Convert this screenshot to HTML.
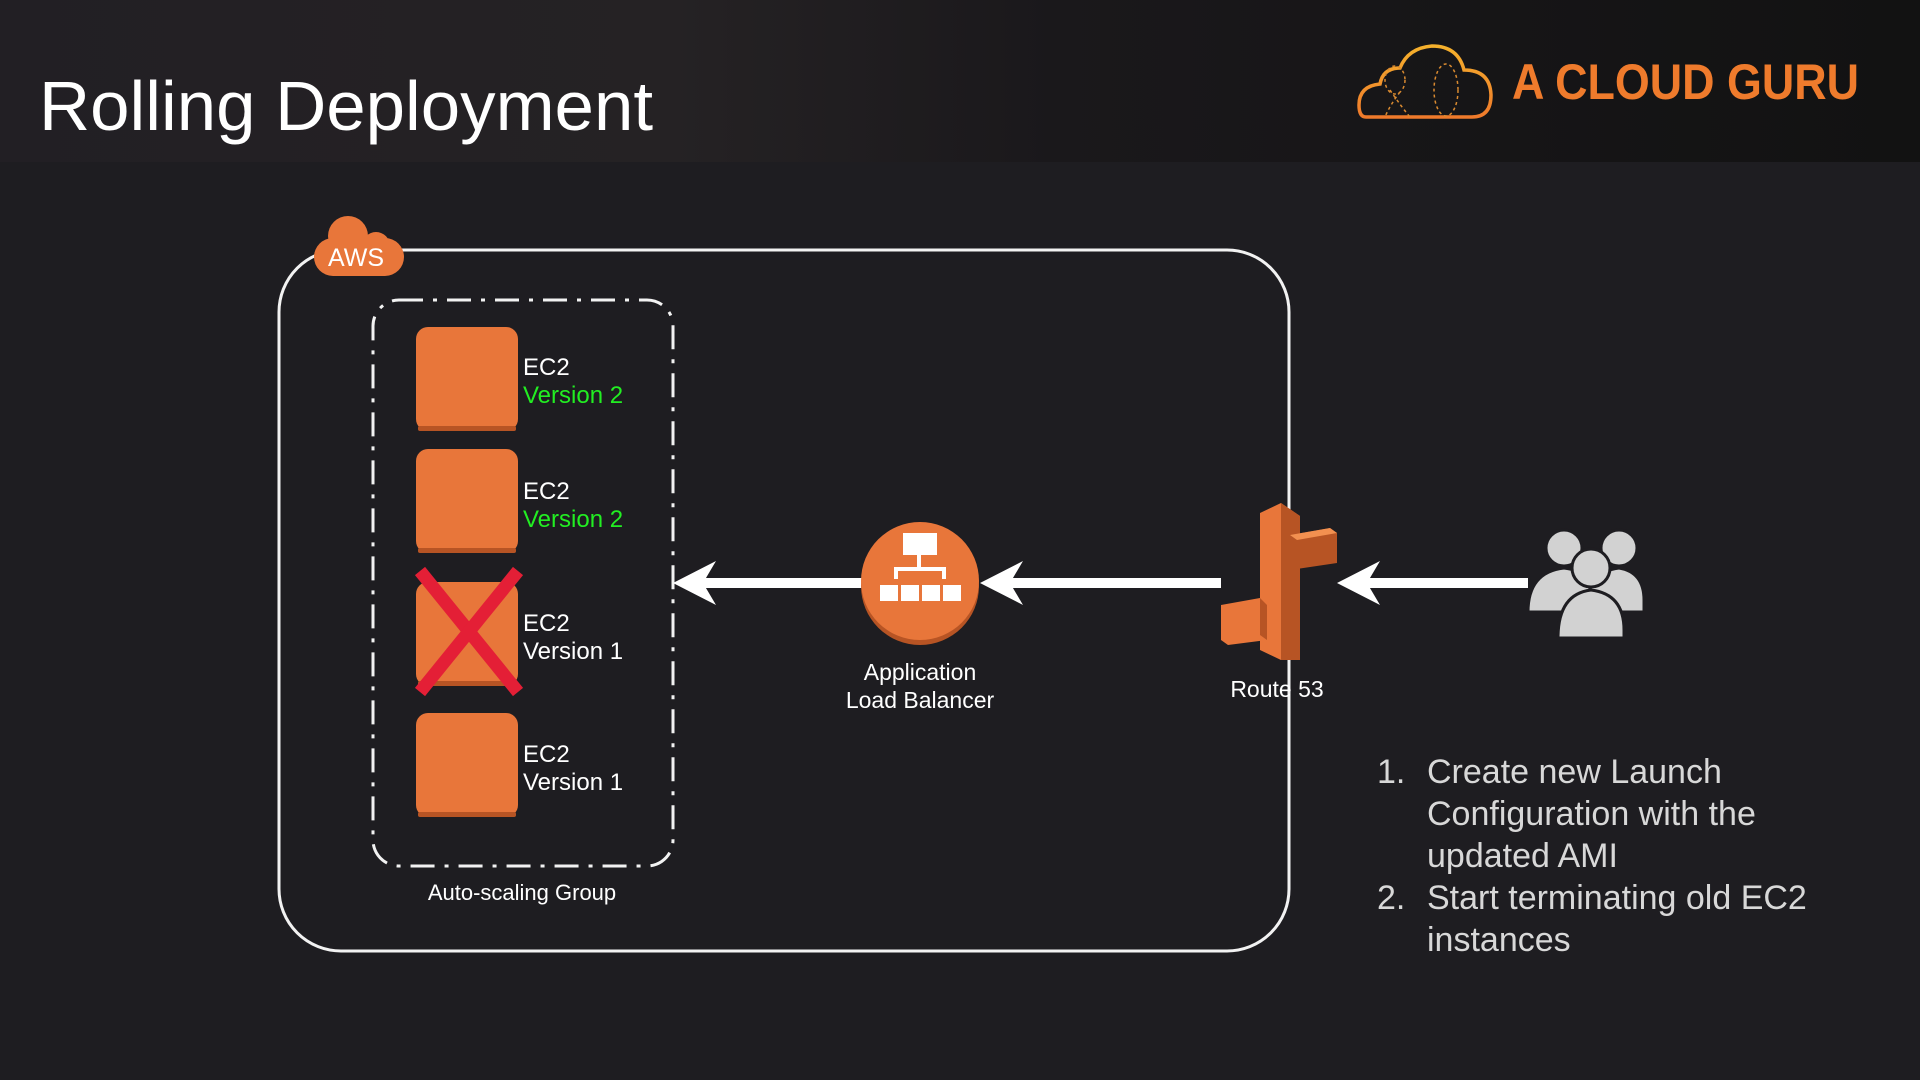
<!DOCTYPE html>
<html><head><meta charset="utf-8"><style>
html,body{margin:0;padding:0;width:1920px;height:1080px;overflow:hidden;background:#1e1d21}
svg{display:block}
text{font-family:"Liberation Sans",Arial,sans-serif}
</style></head><body>
<svg width="1920" height="1080" viewBox="0 0 1920 1080" xmlns="http://www.w3.org/2000/svg">
<defs>
<linearGradient id="hdr" x1="0" y1="0" x2="1" y2="0">
<stop offset="0" stop-color="#221f24"/><stop offset="0.35" stop-color="#252224"/><stop offset="0.55" stop-color="#1a181b"/><stop offset="1" stop-color="#121212"/>
</linearGradient>
<linearGradient id="logo" x1="0" y1="0" x2="0" y2="1"><stop offset="0" stop-color="#f5b12c"/><stop offset="1" stop-color="#ef7a2b"/></linearGradient>
</defs>
<rect width="1920" height="1080" fill="#1e1d21"/>
<rect width="1920" height="162" fill="url(#hdr)"/>
<text x="39" y="130" font-size="70" fill="#ffffff" textLength="614" lengthAdjust="spacingAndGlyphs">Rolling Deployment</text>
<!-- logo -->
<g fill="none" stroke="url(#logo)" stroke-width="3.5">
<path d="M1366 117 Q1359 117 1359 105 Q1359 86 1380 84 Q1383 68 1400 68 Q1408 48 1432 46 Q1458 46 1464 70 Q1490 70 1491 95 Q1491 117 1472 117 Z"/>
</g>
<g fill="none" stroke="#d98a30" stroke-width="1.5" stroke-dasharray="3 3">
<ellipse cx="1395" cy="80" rx="10" ry="14"/><path d="M1390 90 Q1400 105 1410 117"/><path d="M1400 92 Q1390 105 1385 117"/>
<ellipse cx="1446" cy="90" rx="12" ry="26"/>
</g>
<text x="1512" y="99" font-size="50" font-weight="bold" fill="#ef7b2c" textLength="347" lengthAdjust="spacingAndGlyphs">A CLOUD GURU</text>
<!-- AWS box -->
<rect x="279" y="250" width="1010" height="701" rx="62" fill="none" stroke="#f2f2f2" stroke-width="3"/>
<rect x="314" y="238" width="90" height="38" rx="19" fill="#e8763a"/>
<circle cx="348" cy="236" r="20" fill="#e8763a"/><circle cx="376" cy="246" r="14" fill="#e8763a"/>
<text x="356" y="266" font-size="25" fill="#fff" text-anchor="middle">AWS</text>
<!-- ASG -->
<rect x="373" y="300" width="300" height="566" rx="26" fill="none" stroke="#f2f2f2" stroke-width="3" stroke-dasharray="24 10 4 10"/>
<g fill="#e8763a">
<rect x="416" y="327" width="102" height="104" rx="12"/>
<rect x="416" y="449" width="102" height="104" rx="12"/>
<rect x="416" y="582" width="102" height="104" rx="12"/>
<rect x="416" y="713" width="102" height="104" rx="12"/>
</g>
<g fill="#b75424">
<rect x="418" y="426" width="98" height="5" rx="2"/><rect x="418" y="548" width="98" height="5" rx="2"/><rect x="418" y="681" width="98" height="5" rx="2"/><rect x="418" y="812" width="98" height="5" rx="2"/>
</g>
<g stroke="#e41f36" stroke-width="13"><line x1="420" y1="571" x2="518" y2="692"/><line x1="518" y1="571" x2="420" y2="692"/></g>
<g font-size="24" fill="#fff">
<text x="523" y="375">EC2</text><text x="523" y="403" fill="#22ee22">Version 2</text>
<text x="523" y="499">EC2</text><text x="523" y="527" fill="#22ee22">Version 2</text>
<text x="523" y="631">EC2</text><text x="523" y="659">Version 1</text>
<text x="523" y="762">EC2</text><text x="523" y="790">Version 1</text>
</g>
<text x="522" y="900" font-size="22" fill="#fff" text-anchor="middle">Auto-scaling Group</text>
<!-- arrows -->
<g fill="#fff">
<rect x="700" y="578" width="162" height="10"/><path d="M673 583 L716 561 L703 583 L716 605 Z"/>
<rect x="1005" y="578" width="216" height="10"/><path d="M980 583 L1023 561 L1010 583 L1023 605 Z"/>
<rect x="1360" y="578" width="168" height="10"/><path d="M1337 583 L1380 561 L1367 583 L1380 605 Z"/>
</g>
<!-- ALB -->
<circle cx="920" cy="586" r="59" fill="#b75424"/>
<circle cx="920" cy="581" r="59" fill="#e8763a"/>
<g fill="#fff">
<rect x="903" y="533" width="34" height="22"/>
<rect x="917" y="555" width="4" height="14"/><rect x="894" y="567" width="52" height="4"/>
<rect x="894" y="567" width="4" height="12"/><rect x="942" y="567" width="4" height="12"/>
<rect x="880" y="585" width="18" height="16"/><rect x="901" y="585" width="18" height="16"/>
<rect x="922" y="585" width="18" height="16"/><rect x="943" y="585" width="18" height="16"/>
</g>
<text x="920" y="680" font-size="23" fill="#fff" text-anchor="middle">Application</text>
<text x="920" y="708" font-size="23" fill="#fff" text-anchor="middle">Load Balancer</text>
<!-- Route 53 -->
<polygon points="1260,513 1281,503 1300,516 1300,660 1281,660 1260,650" fill="#e8763a"/>
<polygon points="1281,503 1300,516 1300,660 1281,660" fill="#b75424"/>
<polygon points="1290,535 1330,528 1337,533 1337,563 1290,570" fill="#b75424"/>
<polygon points="1290,535 1330,528 1337,533 1297,540" fill="#f29050"/>
<polygon points="1221,605 1260,598 1267,605 1267,640 1228,645 1221,640" fill="#e8763a"/>
<polygon points="1260,598 1267,605 1267,640 1260,635" fill="#b75424"/>
<text x="1277" y="697" font-size="23" fill="#fff" text-anchor="middle">Route 53</text>
<!-- users -->
<g fill="#d2d2d2" stroke="#1e1d21" stroke-width="3">
<circle cx="1564" cy="548" r="18"/><circle cx="1619" cy="548" r="18"/>
<path d="M1528 612 Q1528 572 1564 568 Q1598 572 1598 600 L1598 612 Z"/>
<path d="M1586 612 Q1586 572 1619 568 Q1644 572 1644 600 L1644 612 Z"/>
<circle cx="1591" cy="568" r="19"/>
<path d="M1558 638 Q1558 594 1591 590 Q1624 594 1624 630 L1624 638 Z"/>
</g>
<!-- list -->
<g font-size="34" fill="#d8d8d8">
<text x="1377" y="783">1.</text><text x="1427" y="783">Create new Launch</text>
<text x="1427" y="825">Configuration with the</text>
<text x="1427" y="867">updated AMI</text>
<text x="1377" y="909">2.</text><text x="1427" y="909">Start terminating old EC2</text>
<text x="1427" y="951">instances</text>
</g>
</svg>
</body></html>
